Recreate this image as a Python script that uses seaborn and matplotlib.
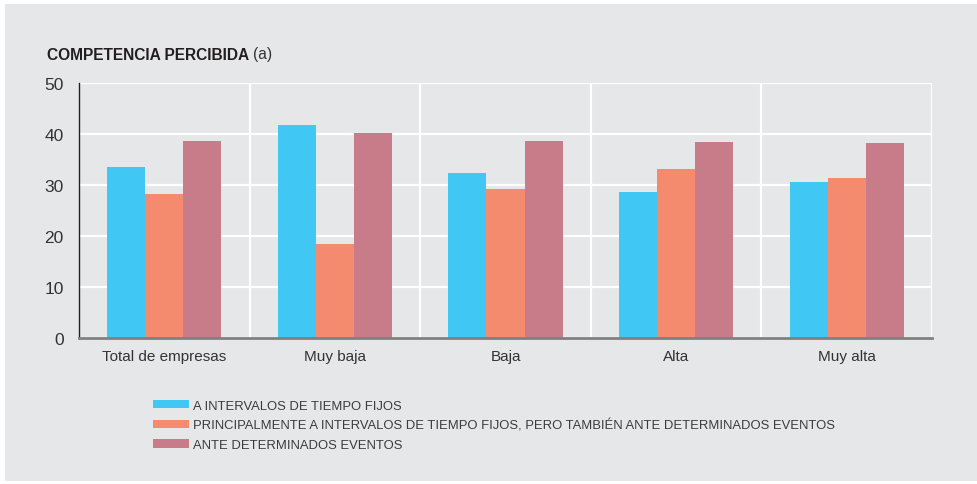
import matplotlib
matplotlib.use("Agg")
import matplotlib.pyplot as plt
import numpy as np
import pandas as pd
import seaborn as sns
from matplotlib.patches import Patch, Rectangle

categories = ["Total de empresas", "Muy baja", "Baja", "Alta", "Muy alta"]
series_names = [
    "A INTERVALOS DE TIEMPO FIJOS",
    "PRINCIPALMENTE A INTERVALOS DE TIEMPO FIJOS, PERO TAMBIÉN ANTE DETERMINADOS EVENTOS",
    "ANTE DETERMINADOS EVENTOS",
]
fijos = [33.5, 41.8, 32.4, 28.6, 30.6]
principalmente = [28.2, 18.4, 29.2, 33.1, 31.4]
eventos = [38.6, 40.2, 38.6, 38.4, 38.2]
y_ticks = [0, 10, 20, 30, 40, 50]

colors = ["#40c7f4", "#f48b6e", "#c87c89"]
bg = "#e6e7e8"

df = pd.DataFrame({
    "categoria": categories * 3,
    "serie": [series_names[0]] * 5 + [series_names[1]] * 5 + [series_names[2]] * 5,
    "valor": fijos + principalmente + eventos,
})

sns.set_theme(style="white")
plt.rcParams["font.family"] = ["Liberation Sans", "DejaVu Sans"]

fig = plt.figure(figsize=(9.77, 4.85), dpi=100)
fig.patch.set_facecolor("white")
fig.patches.append(Rectangle((5 / 977, 3 / 485), 972 / 977, 477 / 485,
                             transform=fig.transFigure, facecolor=bg,
                             edgecolor="none", zorder=-10))

ax = fig.add_axes([79 / 977, 1 - 339 / 485, 853 / 977, 255 / 485])
ax.set_facecolor(bg)

sns.barplot(data=df, x="categoria", y="valor", hue="serie", palette=colors,
            width=0.67, gap=0, saturation=1, linewidth=0, ax=ax, legend=False)

ax.set_ylim(0, 50)
ax.set_xlim(-0.5, 4.5)
ax.set_yticks(y_ticks)
ax.set_xlabel("")
ax.set_ylabel("")
ax.set_xticks(np.arange(len(categories)))
ax.set_xticks(np.arange(len(categories)) + 0.5, minor=True)
ax.tick_params(axis="both", which="both", length=0, colors="#333333")
ax.tick_params(axis="x", labelsize=11, pad=8)
ax.tick_params(axis="y", labelsize=12.5, pad=11)
ax.grid(axis="y", which="major", color="white", linewidth=1.6, zorder=0)
ax.grid(axis="x", which="minor", color="white", linewidth=1.6, zorder=0)
ax.set_axisbelow(True)

for side in ["top", "right"]:
    ax.spines[side].set_visible(False)
ax.spines["left"].set_color("#231f20")
ax.spines["left"].set_linewidth(1.0)
ax.spines["bottom"].set_color("#808080")
ax.spines["bottom"].set_linewidth(2.0)

# bold title with the "(a)" note right after it
title = fig.text(47 / 977, 1 - 55 / 485, "COMPETENCIA PERCIBIDA", fontsize=11.2,
                 fontweight="bold", color="#231f20", va="center", ha="left")
ax.annotate("(a)", xy=(1, 0.5), xycoords=title, xytext=(3, 0),
            textcoords="offset points", fontsize=11.2, color="#333333",
            va="center", ha="left", annotation_clip=False)

handles = [Patch(facecolor=c, edgecolor="none") for c in colors]
fig.legend(handles, series_names, loc="upper left",
           bbox_to_anchor=(141 / 977, 1 - 389 / 485), frameon=False,
           fontsize=9.4, handlelength=2.8, handleheight=0.6, handletextpad=0.3,
           labelspacing=0.55, labelcolor="#3c3c3c")

fig.savefig("out.png", dpi=100, facecolor=fig.get_facecolor())
